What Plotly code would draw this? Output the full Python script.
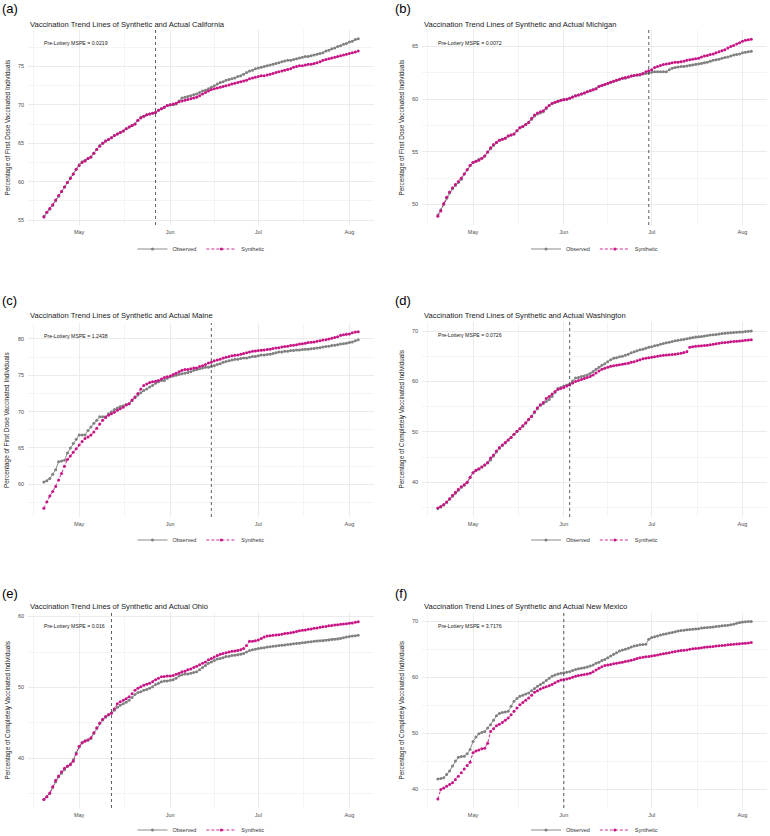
import pandas as pd
import plotly.graph_objects as go

W, H = 770, 836
START, END = "2021-04-19", "2021-08-04"
dates = pd.date_range(START, END, freq="D")

states = ["California", "Michigan", "Maine", "Washington", "Ohio", "New Mexico"]
panel_letters = ["(a)", "(b)", "(c)", "(d)", "(e)", "(f)"]
y_labels = ["Percentage of First Dose Vaccinated Individuals",
            "Percentage of First Dose Vaccinated Individuals",
            "Percentage of First Dose Vaccinated Individuals",
            "Percentage of Completely Vaccinated Individuals",
            "Percentage of Completely Vaccinated Individuals",
            "Percentage of Completely Vaccinated Individuals"]
mspe = ["0.0219", "0.0072", "1.2438", "0.0726", "0.016", "3.7176"]
lottery_dates = ["2021-05-27", "2021-06-30", "2021-06-15", "2021-06-03", "2021-05-12", "2021-06-01"]
y_ticks = [[55, 60, 65, 70, 75], [50, 55, 60, 65], [60, 65, 70, 75, 80],
           [40, 50, 60, 70], [40, 50, 60], [40, 50, 60, 70]]
y_ranges = [[54.35, 79.75], [48.06, 66.57], [55.5, 82.2], [33.1, 71.8], [33.0, 60.5], [36.6, 71.5]]
x_tick_vals = ["2021-05-01", "2021-06-01", "2021-07-01", "2021-08-01"]
x_tick_text = ["May", "Jun", "Jul", "Aug"]

# ---- (a) California ----
ca_obs = [55.5, 56.0, 56.4, 56.9, 57.5, 58.1, 58.7, 59.3, 59.9, 60.5, 61.0, 61.6,
          62.2, 62.6, 62.8, 63.0, 63.2, 63.7, 64.2, 64.7, 65.0, 65.3, 65.5, 65.7, 66.0, 66.2, 66.4, 66.6,
          66.9, 67.1, 67.3, 67.5, 68.0, 68.4, 68.5, 68.7, 68.8, 68.9, 69.0, 69.3, 69.5, 69.7, 69.9,
          70.0, 70.0, 70.1, 70.5, 70.9, 71.0, 71.1, 71.2, 71.3, 71.4, 71.6, 71.8, 71.9, 72.1, 72.3,
          72.5, 72.7, 72.9, 73.0, 73.2, 73.3, 73.4, 73.5, 73.7, 73.8, 74.0, 74.2, 74.4, 74.5, 74.7,
          74.8, 74.9, 75.0, 75.1, 75.2, 75.3, 75.4, 75.5, 75.6, 75.7, 75.8, 75.8, 75.9, 76.0, 76.1,
          76.2, 76.3, 76.3, 76.4, 76.5, 76.6, 76.7, 76.8, 77.0, 77.1, 77.3, 77.4, 77.6, 77.7, 77.9, 78.0,
          78.2, 78.3, 78.5, 78.6]
ca_syn = [55.4, 56.0, 56.5, 57.0, 57.6, 58.2, 58.7, 59.3, 59.9, 60.4, 61.0, 61.6,
          62.1, 62.5, 62.7, 63.0, 63.2, 63.7, 64.2, 64.6, 65.0, 65.3, 65.5, 65.7, 66.0, 66.2, 66.4, 66.6,
          66.9, 67.1, 67.3, 67.5, 68.0, 68.3, 68.5, 68.7, 68.8, 68.9, 69.0, 69.3, 69.5, 69.7, 69.9,
          70.0, 70.1, 70.2, 70.4, 70.5, 70.6, 70.7, 70.8, 70.9, 71.0, 71.2, 71.4, 71.6, 71.8, 72.0,
          72.1, 72.2, 72.3, 72.4, 72.5, 72.6, 72.7, 72.8, 72.9, 73.0, 73.1, 73.2, 73.4, 73.5, 73.6,
          73.7, 73.8, 73.8, 73.9, 74.0, 74.1, 74.2, 74.3, 74.4, 74.5, 74.6, 74.7, 74.9, 75.0, 75.1,
          75.1, 75.2, 75.3, 75.3, 75.4, 75.5, 75.6, 75.8, 75.9, 76.0, 76.1, 76.2, 76.3, 76.4, 76.5, 76.6,
          76.7, 76.8, 76.9, 77.0]

# ---- (b) Michigan ----
mi_obs = [49.0, 49.5, 50.0, 50.6, 51.1, 51.5, 51.8, 52.1, 52.4, 52.9, 53.3, 53.7,
          54.0, 54.1, 54.3, 54.4, 54.6, 55.0, 55.3, 55.6, 55.9, 56.1, 56.2, 56.3, 56.5, 56.6, 56.7, 57.0,
          57.3, 57.4, 57.6, 57.8, 58.1, 58.4, 58.6, 58.7, 58.8, 59.1, 59.4, 59.6, 59.7, 59.8, 59.9,
          60.0, 60.0, 60.1, 60.2, 60.35, 60.4, 60.5, 60.6, 60.7, 60.8, 60.9, 61.0, 61.2, 61.3, 61.4,
          61.5, 61.6, 61.7, 61.8, 61.9, 62.0, 62.0, 62.1, 62.2, 62.25, 62.3, 62.3, 62.4, 62.45, 62.5,
          62.55, 62.6, 62.6, 62.6, 62.6, 62.6, 62.8, 62.95, 63.0, 63.05, 63.1, 63.1, 63.15, 63.2, 63.25,
          63.3, 63.35, 63.4, 63.45, 63.5, 63.6, 63.7, 63.75, 63.8, 63.9, 63.95, 64.0, 64.1, 64.2, 64.25, 64.3,
          64.4, 64.45, 64.5, 64.55]
mi_syn = [48.9, 49.4, 50.1, 50.7, 51.2, 51.6, 51.9, 52.2, 52.5, 52.9, 53.3, 53.7,
          54.0, 54.1, 54.2, 54.4, 54.6, 55.0, 55.4, 55.7, 55.9, 56.1, 56.2, 56.3, 56.5, 56.6, 56.7, 57.0,
          57.3, 57.4, 57.6, 57.8, 58.2, 58.5, 58.7, 58.8, 58.9, 59.2, 59.4, 59.6, 59.7, 59.8, 59.9,
          59.95, 60.0, 60.1, 60.2, 60.3, 60.4, 60.5, 60.6, 60.7, 60.8, 60.9, 61.0, 61.2, 61.3, 61.4,
          61.5, 61.6, 61.7, 61.8, 61.9, 62.0, 62.05, 62.1, 62.2, 62.25, 62.3, 62.35, 62.45, 62.6, 62.7,
          62.8, 63.0, 63.1, 63.2, 63.3, 63.35, 63.4, 63.45, 63.5, 63.5, 63.55, 63.6, 63.7, 63.75, 63.8,
          63.85, 63.9, 64.0, 64.1, 64.15, 64.25, 64.3, 64.4, 64.5, 64.6, 64.7, 64.85, 65.0, 65.1, 65.25, 65.35,
          65.5, 65.6, 65.65, 65.7]

# ---- (c) Maine ----
me_obs = [60.3, 60.5, 60.8, 61.4, 62.0, 63.1, 63.2, 63.3, 64.3, 65.0, 65.6, 66.2,
          66.8, 66.8, 66.8, 67.4, 67.9, 68.4, 68.8, 69.3, 69.3, 69.3, 69.7, 70.0, 70.3, 70.5, 70.7, 70.8,
          71.0, 71.1, 71.5, 71.9, 72.3, 72.6, 72.9, 73.1, 73.4, 73.6, 73.9, 74.1, 74.3, 74.3, 74.6,
          74.8, 74.9, 75.0, 75.1, 75.2, 75.3, 75.4, 75.5, 75.7, 75.8, 75.9, 76.0, 76.1, 76.1, 76.2,
          76.3, 76.5, 76.6, 76.8, 76.9, 77.0, 77.1, 77.2, 77.2, 77.3, 77.4, 77.4, 77.5, 77.6, 77.6,
          77.7, 77.8, 77.8, 77.85, 77.9, 78.0, 78.1, 78.2, 78.2, 78.3, 78.3, 78.4, 78.4, 78.5, 78.5,
          78.55, 78.6, 78.6, 78.65, 78.7, 78.75, 78.8, 78.9, 78.95, 79.0, 79.1, 79.15, 79.2, 79.3, 79.35, 79.4,
          79.5, 79.6, 79.75, 79.9]
me_syn = [56.7, 57.6, 58.4, 59.0, 59.7, 60.6, 61.5, 62.5, 63.4, 63.9, 64.4, 64.9,
          65.4, 65.9, 66.3, 66.5, 66.8, 67.2, 67.7, 68.3, 68.8, 69.2, 69.5, 69.7, 69.9, 70.2, 70.4, 70.6,
          70.9, 71.1, 71.6, 72.0, 72.5, 73.1, 73.6, 73.8, 74.0, 74.1, 74.2, 74.3, 74.5, 74.7, 74.8,
          74.9, 75.1, 75.3, 75.5, 75.7, 75.8, 75.8, 75.9, 76.0, 76.0, 76.2, 76.3, 76.5, 76.7, 76.8,
          77.0, 77.1, 77.2, 77.4, 77.5, 77.6, 77.7, 77.75, 77.8, 77.9, 78.0, 78.1, 78.2, 78.3, 78.35,
          78.4, 78.45, 78.5, 78.55, 78.6, 78.7, 78.75, 78.8, 78.9, 78.95, 79.0, 79.1, 79.15, 79.2, 79.3,
          79.35, 79.4, 79.5, 79.55, 79.6, 79.7, 79.75, 79.85, 79.9, 80.0, 80.1, 80.2, 80.3, 80.5, 80.6, 80.65,
          80.7, 80.85, 80.95, 81.0]

# ---- (d) Washington ----
wa_obs = [34.8, 35.1, 35.5, 36.0, 36.6, 37.2, 37.8, 38.4, 39.0, 39.4, 39.9, 40.9,
          41.9, 42.3, 42.6, 43.0, 43.4, 43.8, 44.4, 45.2, 46.0, 46.7, 47.3, 47.8, 48.4, 48.9, 49.5, 50.0,
          50.6, 51.1, 51.7, 52.4, 53.0, 53.8, 54.6, 55.3, 55.6, 56.0, 56.4, 57.0, 57.8, 58.6, 58.8,
          59.1, 59.3, 59.5, 60.1, 60.7, 60.8, 61.0, 61.1, 61.3, 61.6, 62.0, 62.4, 62.8, 63.2, 63.5,
          63.9, 64.3, 64.6, 64.7, 64.9, 65.0, 65.2, 65.4, 65.7, 65.9, 66.1, 66.3, 66.4, 66.6, 66.8,
          66.9, 67.1, 67.2, 67.4, 67.55, 67.7, 67.8, 67.95, 68.1, 68.2, 68.3, 68.4, 68.5, 68.6, 68.7,
          68.8, 68.85, 68.9, 69.0, 69.1, 69.2, 69.25, 69.3, 69.4, 69.5, 69.55, 69.6, 69.65, 69.7, 69.75, 69.8,
          69.8, 69.9, 69.95, 70.0]
wa_syn = [34.9, 35.2, 35.6, 36.1, 36.7, 37.4, 38.0, 38.6, 39.1, 39.5, 40.0, 41.0,
          41.9, 42.4, 42.7, 43.0, 43.4, 43.9, 44.8, 45.4, 46.2, 46.9, 47.4, 47.9, 48.4, 48.9, 49.5, 50.1,
          50.6, 51.2, 51.8, 52.5, 53.1, 54.0, 54.8, 55.4, 55.8, 56.6, 57.0, 57.5, 58.0, 58.4, 58.6,
          58.8, 59.1, 59.3, 59.7, 60.0, 60.2, 60.4, 60.6, 60.8, 61.0, 61.3, 61.7, 62.1, 62.4, 62.6,
          62.8, 63.0, 63.1, 63.2, 63.3, 63.4, 63.5, 63.6, 63.8, 63.9, 64.1, 64.3, 64.5, 64.6, 64.7,
          64.8, 64.9, 65.0, 65.1, 65.2, 65.25, 65.3, 65.35, 65.4, 65.5, 65.6, 65.75, 65.9, 66.8, 66.9,
          67.0, 67.05, 67.1, 67.15, 67.2, 67.3, 67.4, 67.5, 67.6, 67.7, 67.75, 67.8, 67.9, 67.95, 68.0, 68.05,
          68.1, 68.2, 68.25, 68.3]

# ---- (e) Ohio ----
oh_obs = [34.25, 34.6, 35.05, 35.9, 36.7, 37.4, 37.9, 38.4, 38.9, 39.2, 39.8, 40.8,
          41.6, 42.2, 42.5, 42.6, 42.8, 43.5, 44.2, 44.9, 45.4, 45.8, 46.1, 46.35, 46.8, 47.2, 47.5, 47.7,
          47.9, 48.2, 48.6, 49.0, 49.3, 49.4, 49.6, 49.7, 49.9, 50.1, 50.4, 50.6, 50.8, 50.9, 50.9,
          51.0, 51.1, 51.3, 51.6, 51.8, 51.9, 51.9, 52.0, 52.1, 52.2, 52.5, 52.8, 53.1, 53.4, 53.6,
          53.8, 54.0, 54.1, 54.2, 54.35, 54.4, 54.5, 54.55, 54.6, 54.7, 54.8, 55.0, 55.2, 55.3, 55.4,
          55.5, 55.55, 55.6, 55.7, 55.75, 55.8, 55.85, 55.9, 55.95, 56.0, 56.05, 56.1, 56.15, 56.2, 56.25,
          56.3, 56.35, 56.4, 56.45, 56.5, 56.55, 56.6, 56.6, 56.65, 56.7, 56.75, 56.8, 56.85, 56.9, 57.0, 57.1,
          57.2, 57.25, 57.3, 57.35]
oh_syn = [34.2, 34.6, 35.1, 36.0, 36.9, 37.5, 38.1, 38.6, 38.9, 39.1, 39.6, 40.6,
          41.7, 42.2, 42.4, 42.6, 42.9, 43.6, 44.3, 45.0, 45.5, 45.9, 46.2, 46.4, 47.0, 47.7, 48.0, 48.2,
          48.4, 48.7, 49.1, 49.6, 49.9, 50.1, 50.3, 50.45, 50.6, 50.8, 51.1, 51.3, 51.5, 51.55, 51.6,
          51.6, 51.7, 51.85, 52.0, 52.2, 52.3, 52.5, 52.6, 52.8, 53.0, 53.2, 53.4, 53.6, 53.9, 54.1,
          54.3, 54.5, 54.7, 54.8, 54.9, 55.0, 55.1, 55.15, 55.2, 55.3, 55.5, 55.9, 56.5, 56.5, 56.6,
          56.7, 56.9, 57.1, 57.25, 57.3, 57.35, 57.4, 57.45, 57.5, 57.6, 57.65, 57.7, 57.8, 57.9, 58.0,
          58.05, 58.1, 58.2, 58.25, 58.35, 58.4, 58.5, 58.55, 58.6, 58.7, 58.75, 58.8, 58.85, 58.9, 58.95, 59.0,
          59.05, 59.1, 59.2, 59.25]

# ---- (f) New Mexico ----
nm_obs = [41.8, 41.9, 42.0, 42.6, 43.2, 44.1, 45.0, 45.7, 45.8, 45.85, 46.3, 47.05,
          48.5, 49.3, 49.9, 50.1, 50.3, 50.9, 51.5, 52.3, 53.1, 53.5, 53.7, 53.8, 53.9, 54.8, 55.7, 56.2,
          56.6, 56.8, 57.0, 57.2, 57.6, 58.0, 58.4, 58.7, 59.0, 59.4, 59.8, 60.2, 60.4, 60.6, 60.7,
          60.8, 60.9, 61.0, 61.2, 61.4, 61.5, 61.6, 61.7, 61.85, 62.0, 62.2, 62.5, 62.7, 63.0, 63.2,
          63.5, 63.8, 64.1, 64.4, 64.7, 64.9, 65.0, 65.2, 65.4, 65.6, 65.7, 65.8, 65.85, 65.9, 66.8,
          67.1, 67.25, 67.4, 67.55, 67.7, 67.8, 67.9, 68.0, 68.15, 68.3, 68.35, 68.4, 68.5, 68.55, 68.6,
          68.65, 68.7, 68.8, 68.85, 68.9, 68.95, 69.0, 69.1, 69.15, 69.2, 69.25, 69.3, 69.4, 69.5, 69.65, 69.8,
          69.9, 69.95, 70.0, 70.0]
nm_syn = [38.2, 39.9, 40.2, 40.5, 40.8, 41.1, 41.7, 42.3, 42.9, 43.6, 44.2, 44.8,
          46.5, 46.8, 47.0, 47.2, 47.3, 48.2, 50.3, 50.8, 51.3, 51.6, 51.9, 52.3, 52.7, 53.3, 53.9, 54.5,
          55.1, 55.5, 55.9, 56.3, 56.8, 57.3, 57.6, 57.9, 58.1, 58.3, 58.5, 58.7, 59.0, 59.3, 59.5,
          59.6, 59.7, 59.8, 60.0, 60.2, 60.3, 60.4, 60.5, 60.6, 60.7, 61.0, 61.3, 61.6, 61.9, 62.1,
          62.2, 62.3, 62.4, 62.5, 62.6, 62.7, 62.8, 62.9, 63.05, 63.2, 63.35, 63.5, 63.6, 63.65, 63.7,
          63.8, 63.9, 64.0, 64.1, 64.2, 64.3, 64.4, 64.5, 64.6, 64.7, 64.8, 64.85, 64.9, 65.0, 65.1,
          65.15, 65.2, 65.3, 65.35, 65.4, 65.45, 65.5, 65.6, 65.65, 65.7, 65.75, 65.8, 65.85, 65.9, 65.95, 66.0,
          66.05, 66.1, 66.15, 66.2]

observed = [ca_obs, mi_obs, me_obs, wa_obs, oh_obs, nm_obs]
synthetic = [ca_syn, mi_syn, me_syn, wa_syn, oh_syn, nm_syn]

# ---- layout geometry (pixels) ----
panels_px = [  # x0, x1, y0(top), y1(bottom)
    (28, 374, 30, 225), (422, 767, 30, 225),
    (28, 374, 323, 517), (422, 767, 322, 517),
    (28, 374, 613, 808), (422, 767, 613, 808),
]
title_y = [24, 24, 315, 315, 606, 606]
legend_y = [249, 249, 540, 540, 830, 830]
letter_y = [9, 9, 300, 300, 593, 593]

OBS_COL = "#808080"
SYN_COL = "#C71585"
FONT = "Liberation Sans, Arial, sans-serif"

def fx(px):
    return px / W

def fy(py):
    return 1 - py / H

fig = go.Figure()
annotations = []
shapes = []
layout = dict(
    width=W, height=H, margin=dict(l=0, r=0, t=0, b=0, autoexpand=False),
    paper_bgcolor="white", plot_bgcolor="white",
    font=dict(family=FONT, color="#4D4D4D"),
    showlegend=True,
)

for i in range(6):
    k = "" if i == 0 else str(i + 1)
    leg = "legend" if i == 0 else f"legend{i + 1}"
    x0, x1, y0, y1 = panels_px[i]
    fig.add_trace(go.Scatter(
        x=dates, y=observed[i], mode="lines+markers", name="Observed",
        line=dict(color=OBS_COL, width=0.9), marker=dict(color=OBS_COL, size=3),
        xaxis="x" + k, yaxis="y" + k, legend=leg, showlegend=True))
    fig.add_trace(go.Scatter(
        x=dates, y=synthetic[i], mode="lines+markers", name="Synthetic",
        line=dict(color=SYN_COL, width=0.9, dash="3px,2px"), marker=dict(color=SYN_COL, size=3),
        xaxis="x" + k, yaxis="y" + k, legend=leg, showlegend=True))

    layout["xaxis" + k] = dict(
        domain=[fx(x0), fx(x1)], anchor="y" + k,
        range=["2021-04-13 14:00", "2021-08-09 09:00"],
        tickmode="array", tickvals=x_tick_vals, ticktext=x_tick_text,
        showgrid=True, gridcolor="#EBEBEB", gridwidth=0.8,
        minor=dict(tickmode="array",
                   tickvals=["2021-04-15 12:00", "2021-05-16 12:00", "2021-06-16", "2021-07-16 12:00"],
                   showgrid=True, gridcolor="#F4F4F4", gridwidth=0.5),
        zeroline=False, showline=False, ticks="", automargin=False,
        tickfont=dict(size=5.5, color="#4D4D4D", family=FONT), ticklabelstandoff=2,
    )
    yt = y_ticks[i]
    step = yt[1] - yt[0]
    layout["yaxis" + k] = dict(
        domain=[fy(y1), fy(y0)], anchor="x" + k, range=y_ranges[i],
        tickmode="array", tickvals=yt, ticktext=[str(v) for v in yt],
        showgrid=True, gridcolor="#EBEBEB", gridwidth=0.8,
        minor=dict(dtick=step / 2, tick0=yt[0] - step / 2, showgrid=True,
                   gridcolor="#F4F4F4", gridwidth=0.5),
        zeroline=False, showline=False, ticks="", automargin=False,
        tickfont=dict(size=5.5, color="#4D4D4D", family=FONT), ticklabelstandoff=3,
    )
    layout[leg] = dict(
        orientation="h", x=fx((x0 + x1) / 2), xanchor="center",
        y=fy(legend_y[i]), yanchor="middle", bgcolor="rgba(0,0,0,0)",
        font=dict(size=5.5, color="#333333", family=FONT), itemwidth=30,
        tracegroupgap=0,
    )
    shapes.append(dict(
        type="line", xref="x" + k, yref=f"y{k} domain",
        x0=lottery_dates[i], x1=lottery_dates[i], y0=0, y1=1,
        line=dict(color="#333333", width=0.8, dash="3px,3px")))
    # title
    annotations.append(dict(
        text=f"Vaccination Trend Lines of Synthetic and Actual {states[i]}",
        xref="paper", yref="paper", x=fx(x0), y=fy(title_y[i]),
        xanchor="left", yanchor="middle", showarrow=False,
        font=dict(size=7.6, color="#1A1A1A", family=FONT)))
    # y axis title
    annotations.append(dict(
        text=y_labels[i], xref="paper", yref="paper",
        x=fx(x0 - 21), y=fy((y0 + y1) / 2), textangle=-90,
        xanchor="center", yanchor="middle", showarrow=False,
        font=dict(size=6.4, color="#1A1A1A", family=FONT)))
    # MSPE
    annotations.append(dict(
        text=f"Pre-Lottery MSPE = {mspe[i]}", xref="paper", yref="paper",
        x=fx(x0 + 14), y=fy(y0 + 13), xanchor="left", yanchor="middle",
        showarrow=False, font=dict(size=5.2, color="#1A1A1A", family=FONT)))
    # panel letter
    annotations.append(dict(
        text=panel_letters[i], xref="paper", yref="paper",
        x=fx(0 if i % 2 == 0 else 393), y=fy(letter_y[i]),
        xanchor="left", yanchor="middle", showarrow=False,
        font=dict(size=13, color="#000000", family=FONT)))

layout["annotations"] = annotations
layout["shapes"] = shapes
fig.update_layout(**layout)
fig.write_html(
    "out.html",
    config={"displayModeBar": False},
    post_script="document.body.style.margin='0px';document.body.style.overflow='hidden';",
)
